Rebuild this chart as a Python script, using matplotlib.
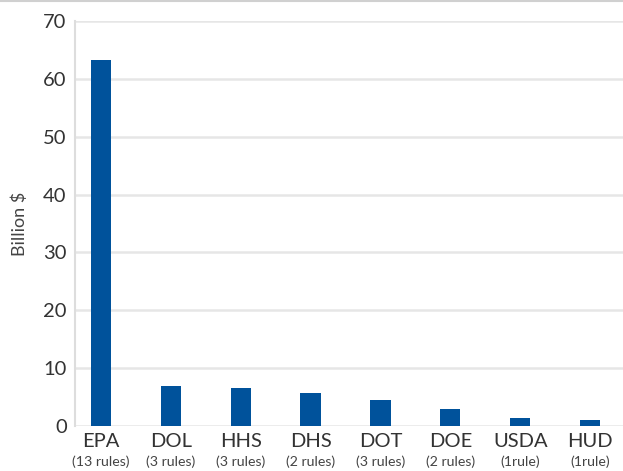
import matplotlib.pyplot as plt
import matplotlib.transforms as mtransforms

# agencies, rule counts and cost (billion $)
agencies = ['EPA', 'DOL', 'HHS', 'DHS', 'DOT', 'DOE', 'USDA', 'HUD']
rules = ['(13 rules)', '(3 rules)', '(3 rules)', '(2 rules)', '(3 rules)', '(2 rules)', '(1rule)', '(1rule)']
costs = [63.3, 6.9, 6.5, 5.7, 4.5, 3.0, 1.3, 1.05]
yticks = [0, 10, 20, 30, 40, 50, 60, 70]

plt.rcParams['font.family'] = ['Lato', 'DejaVu Sans']

fig = plt.figure(figsize=(6.23, 4.71), dpi=100)
ax = fig.add_axes([75 / 623, 1 - 426 / 471, 548 / 623, 405 / 471])

x = range(len(agencies))
ax.bar(x, costs, width=0.29, color='#00529b', zorder=3)

ax.set_xlim(-0.37, 7.47)
ax.set_ylim(0, 70)
ax.set_yticks(yticks)
ax.tick_params(axis='y', length=0, labelsize=14.5, labelcolor='#333333', pad=6)
ax.set_xticks([])
ax.grid(axis='y', color='#e6e6e6', linewidth=1.8, zorder=0)

for side in ['top', 'right', 'bottom']:
    ax.spines[side].set_visible(False)
ax.spines['left'].set_color('#dddddd')
ax.spines['left'].set_linewidth(1.5)

ax.set_ylabel('Billion $', fontsize=13, color='#444444', labelpad=11)

# two-line category labels
trans = mtransforms.blended_transform_factory(ax.transData, ax.transAxes)
for i, (a, r) in enumerate(zip(agencies, rules)):
    ax.text(i, -0.018, a, transform=trans, ha='center', va='top', fontsize=14.5, color='#333333')
    ax.text(i, -0.073, r, transform=trans, ha='center', va='top', fontsize=10.2, color='#444444')

# thin rule at the top of the figure
fig.add_artist(plt.Line2D([0, 1], [0.998, 0.998], transform=fig.transFigure, color='#d0d0d0', linewidth=1.5))

fig.savefig('out.png', dpi=100)
